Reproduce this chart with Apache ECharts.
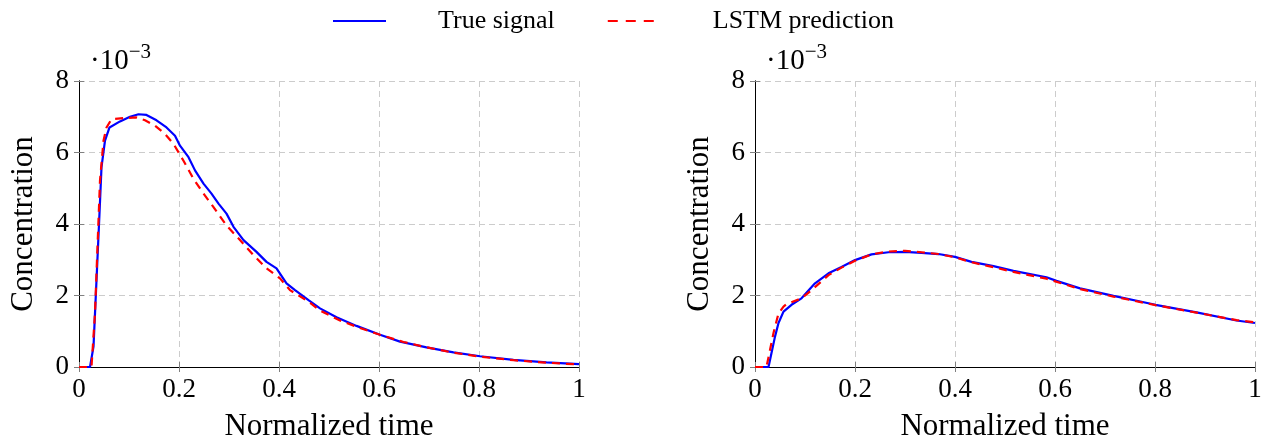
<!DOCTYPE html>
<html>
<head>
<meta charset="utf-8">
<script src="https://cdn.jsdelivr.net/npm/echarts@6/dist/echarts.min.js"></script>
<style>html,body{margin:0;padding:0;background:#fff}#c{width:1269px;height:447px}</style>
</head>
<body>
<div id="c"></div>
<script>
// ---- data (concentration in units of 1e-3) ----
const seriesNames = ['True signal', 'LSTM prediction'];
const xTickLabels = ['0', '0.2', '0.4', '0.6', '0.8', '1'];
const yTickLabels = ['0', '2', '4', '6', '8'];

const leftTrueX = [0, 0.022, 0.029, 0.035, 0.041, 0.045, 0.052, 0.061, 0.082, 0.102, 0.119, 0.135, 0.155, 0.175, 0.192, 0.202, 0.219, 0.232, 0.249, 0.265, 0.279, 0.295, 0.309, 0.329, 0.355, 0.375, 0.395, 0.415, 0.432, 0.459, 0.482, 0.515, 0.555, 0.602, 0.642, 0.695, 0.749, 0.802, 0.869, 0.935, 1.0];
const leftTrueY = [0, 0, 0.57, 2.43, 4.3, 5.59, 6.33, 6.70, 6.87, 7.0, 7.07, 7.05, 6.9, 6.7, 6.47, 6.19, 5.87, 5.50, 5.13, 4.85, 4.57, 4.29, 3.92, 3.55, 3.22, 2.94, 2.76, 2.34, 2.15, 1.87, 1.64, 1.39, 1.15, 0.90, 0.71, 0.55, 0.41, 0.30, 0.20, 0.13, 0.08];

const leftPredX = [0, 0.025, 0.032, 0.042, 0.049, 0.055, 0.065, 0.089, 0.115, 0.132, 0.152, 0.172, 0.189, 0.209, 0.229, 0.249, 0.269, 0.295, 0.322, 0.349, 0.375, 0.402, 0.422, 0.459, 0.482, 0.522, 0.562, 0.609, 0.649, 0.695, 0.749, 0.802, 0.869, 0.935, 1.0];
const leftPredY = [0, 0, 1.51, 5.22, 6.33, 6.7, 6.93, 6.96, 6.98, 6.9, 6.75, 6.52, 6.24, 5.77, 5.26, 4.85, 4.47, 3.96, 3.55, 3.13, 2.76, 2.48, 2.15, 1.83, 1.58, 1.30, 1.09, 0.87, 0.70, 0.55, 0.40, 0.29, 0.19, 0.12, 0.07];

const rightTrueX = [0, 0.027, 0.033, 0.04, 0.047, 0.057, 0.073, 0.093, 0.12, 0.147, 0.173, 0.2, 0.233, 0.267, 0.3, 0.333, 0.367, 0.4, 0.433, 0.477, 0.517, 0.583, 0.603, 0.65, 0.717, 0.801, 0.883, 0.963, 1.0];
const rightTrueY = [0, 0, 0.39, 0.85, 1.23, 1.55, 1.74, 1.92, 2.34, 2.62, 2.80, 2.99, 3.15, 3.21, 3.22, 3.19, 3.16, 3.08, 2.94, 2.82, 2.69, 2.51, 2.41, 2.20, 1.99, 1.74, 1.53, 1.30, 1.23];

const rightPredX = [0, 0.023, 0.037, 0.047, 0.057, 0.063, 0.093, 0.113, 0.147, 0.173, 0.2, 0.233, 0.267, 0.3, 0.333, 0.367, 0.4, 0.433, 0.477, 0.517, 0.583, 0.65, 0.717, 0.801, 0.883, 0.963, 1.0];
const rightPredY = [0, 0, 0.95, 1.5, 1.69, 1.76, 1.92, 2.15, 2.57, 2.78, 2.97, 3.15, 3.23, 3.25, 3.21, 3.16, 3.07, 2.93, 2.79, 2.66, 2.47, 2.18, 1.97, 1.73, 1.52, 1.31, 1.25];

const xTitle = 'Normalized time';
const yTitle = 'Concentration';

// ---- build ----
const FONT = 'Liberation Serif';
const zip = (xs, ys) => xs.map((x, i) => [x, ys[i]]);
const fmtX = v => { const s = xTickLabels[Math.round(v / 0.2)]; return s !== undefined ? s : ''; };
const fmtY = v => { const s = yTickLabels[Math.round(v / 2)]; return s !== undefined ? s : ''; };

const grids = [
  { left: 79, top: 81, width: 500, height: 286 },
  { left: 755, top: 81, width: 500, height: 286 }
];

const axisLine = { show: true, lineStyle: { color: '#000', width: 1 } };
const tickIn = { show: true, inside: true, length: 5, lineStyle: { color: '#808080', width: 1 } };
const split = { show: true, lineStyle: { color: '#cccccc', width: 1, type: [6, 4] } };

const xAxes = [], yAxes = [];
grids.forEach((g, i) => {
  xAxes.push({
    type: 'value', gridIndex: i, min: 0, max: 1, interval: 0.2, position: 'bottom',
    axisLine, axisTick: tickIn, splitLine: split,
    axisLabel: { formatter: fmtX, fontFamily: FONT, fontSize: 27, color: '#000', margin: 9 },
    name: xTitle, nameLocation: 'middle', nameGap: 44,
    nameTextStyle: { fontFamily: FONT, fontSize: 31, color: '#000' }
  });
  xAxes.push({
    type: 'value', gridIndex: i, min: 0, max: 1, interval: 0.2, position: 'top',
    axisLine, axisTick: tickIn, splitLine: { show: false }, axisLabel: { show: false }
  });
  yAxes.push({
    type: 'value', gridIndex: i, min: 0, max: 8, interval: 2, position: 'left',
    axisLine, axisTick: tickIn, splitLine: split,
    axisLabel: { formatter: fmtY, fontFamily: FONT, fontSize: 27, color: '#000', margin: 10 },
    name: yTitle, nameLocation: 'middle', nameGap: 40, nameRotate: 90,
    nameTextStyle: { fontFamily: FONT, fontSize: 31, color: '#000' }
  });
  yAxes.push({
    type: 'value', gridIndex: i, min: 0, max: 8, interval: 2, position: 'right',
    axisLine, axisTick: tickIn, splitLine: { show: false }, axisLabel: { show: false }
  });
});

const panels = [
  [leftTrueX, leftTrueY, leftPredX, leftPredY],
  [rightTrueX, rightTrueY, rightPredX, rightPredY]
];
const series = [];
panels.forEach((p, i) => {
  series.push({
    name: seriesNames[0], type: 'line', xAxisIndex: 2 * i, yAxisIndex: 2 * i,
    data: zip(p[0], p[1]), symbol: 'none', smooth: false, z: 2,
    lineStyle: { color: '#0000ff', width: 2.2 }, itemStyle: { color: '#0000ff' }
  });
  series.push({
    name: seriesNames[1], type: 'line', xAxisIndex: 2 * i, yAxisIndex: 2 * i,
    data: zip(p[2], p[3]), symbol: 'none', smooth: false, z: 3,
    lineStyle: { color: '#ff0000', width: 2.2, type: [8, 6] }, itemStyle: { color: '#ff0000' }
  });
});

const expo = grids.map(g => ({
  type: 'text', left: g.left + 11, top: 42,
  style: {
    text: '{a|·10}{b|−3}',
    rich: {
      a: { fontFamily: FONT, fontSize: 29, fill: '#000', verticalAlign: 'bottom' },
      b: { fontFamily: FONT, fontSize: 21, fill: '#000', verticalAlign: 'top', padding: [0, 0, 13, 0] }
    }
  }
}));

const chart = echarts.init(document.getElementById('c'), null, { renderer: 'canvas' });
chart.setOption({
  animation: false,
  backgroundColor: '#fff',
  grid: grids,
  xAxis: xAxes,
  yAxis: yAxes,
  legend: {
    data: [
      { name: seriesNames[0] },
      { name: seriesNames[1], lineStyle: { type: [10, 8] } }
    ],
    left: 327, top: 3, itemWidth: 53, itemHeight: 14, itemGap: 52,
    itemStyle: { opacity: 0 },
    textStyle: { fontFamily: FONT, fontSize: 26, color: '#000', padding: [0, 0, 0, 47] }
  },
  graphic: expo,
  series
});
</script>
</body>
</html>
